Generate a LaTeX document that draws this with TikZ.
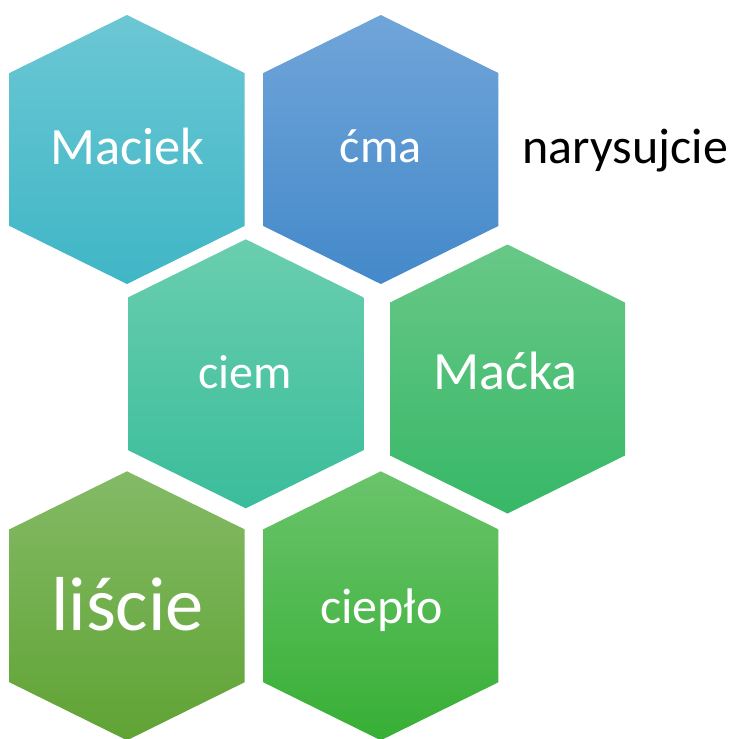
\documentclass[tikz,border=0pt]{standalone}
\usepackage{fontspec}
\setmainfont{Carlito}
\definecolor{aT}{HTML}{6CC7D4}\definecolor{aB}{HTML}{3FB6C6}
\definecolor{bT}{HTML}{70A5D9}\definecolor{bB}{HTML}{4489CA}
\definecolor{cT}{HTML}{6ACEAE}\definecolor{cB}{HTML}{3ABD9B}
\definecolor{dT}{HTML}{68C887}\definecolor{dB}{HTML}{37B867}
\definecolor{eT}{HTML}{84BA66}\definecolor{eB}{HTML}{60A334}
\definecolor{fT}{HTML}{6AC46B}\definecolor{fB}{HTML}{37AF35}
\tikzset{
  hexlabel/.style={text=white, anchor=base, inner sep=0pt},
  sidelabel/.style={text=black, anchor=base west, inner sep=0pt}
}
\newcommand{\myhex}[3]{%
  \path[shift={(#1)}, top color=#2, bottom color=#3]
    (0,-134.5) -- (117.5,-76.5) -- (117.5,76.5) -- (0,134.5)
    -- (-117.5,76.5) -- (-117.5,-76.5) -- cycle;}
\begin{document}
\begin{tikzpicture}[x=1pt,y=-1pt]
\useasboundingbox (0,0) rectangle (733,739);
\myhex{127,149.5}{aT}{aB}
\myhex{380.8,149.5}{bT}{bB}
\myhex{245.8,373.8}{cT}{cB}
\myhex{507.5,379}{dT}{dB}
\myhex{127,605.8}{eT}{eB}
\myhex{380.8,605.8}{fT}{fB}
\node[hexlabel, font=\fontsize{52.5}{60}\selectfont] (maciek) at (127.5,164.3) {Maciek};
\node[hexlabel, font=\fontsize{48}{56}\selectfont] (cma) at (380.8,162.7) {ćma};
\node[hexlabel, font=\fontsize{48}{56}\selectfont] (ciem) at (244.8,388.3) {ciem};
\node[hexlabel, font=\fontsize{54}{62}\selectfont] (macka) at (505.5,389) {Maćka};
\node[hexlabel, font=\fontsize{76.5}{86}\selectfont] (liscie) at (127.5,630) {liście};
\node[hexlabel, font=\fontsize{50}{58}\selectfont] (cieplo) at (381.5,623.3) {ciepło};
\node[sidelabel, font=\fontsize{50}{58}\selectfont] (nary) at (522.5,163.3) {narysujcie};
\end{tikzpicture}
\end{document}
